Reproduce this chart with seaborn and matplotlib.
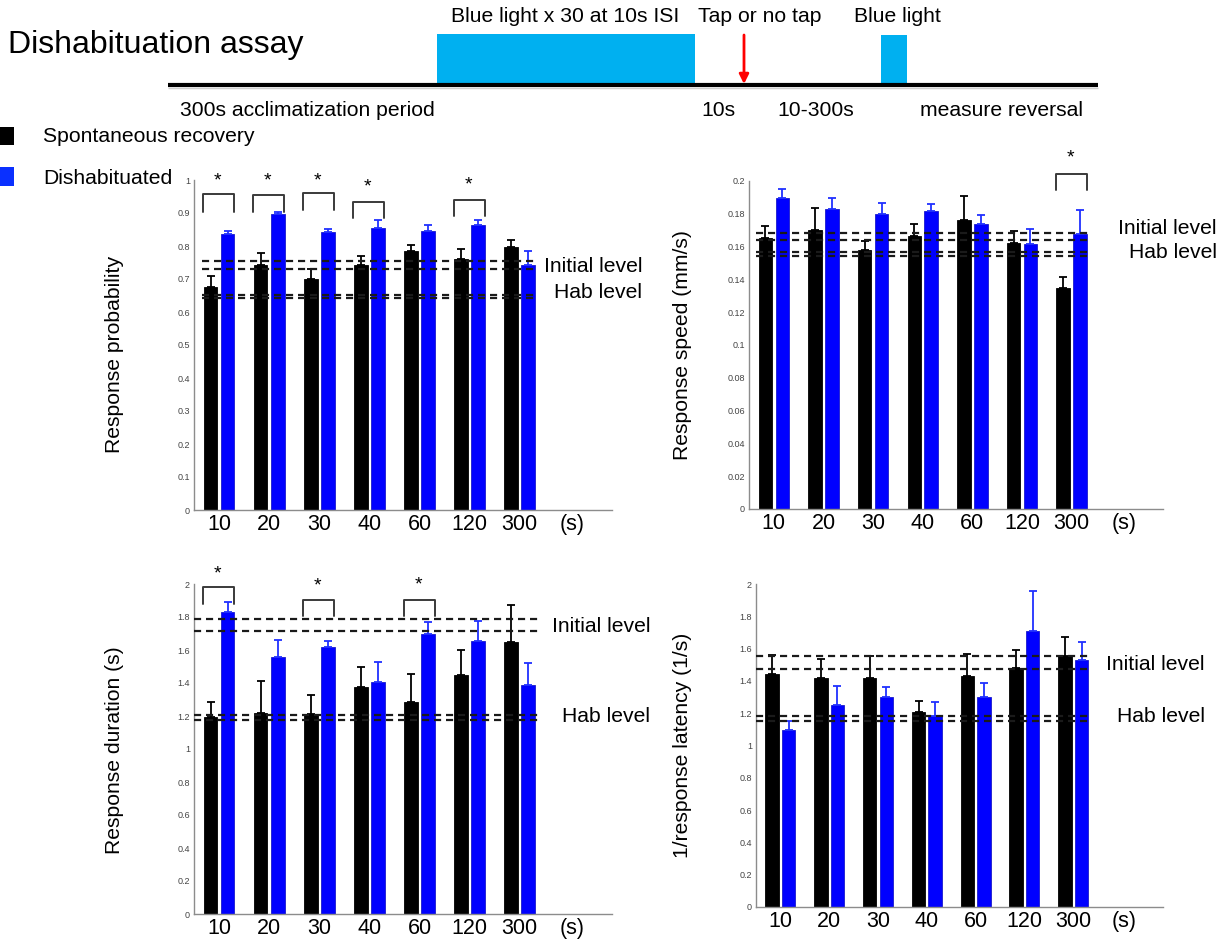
import numpy as np
import pandas as pd
import matplotlib
matplotlib.use("Agg")
import matplotlib.pyplot as plt
from matplotlib.patches import Rectangle
from matplotlib.ticker import FuncFormatter
import seaborn as sns

# ---- data -------------------------------------------------------------
intervals = ['10', '20', '30', '40', '60', '120', '300']
groups = ['Spontaneous recovery', 'Dishabituated']

prob_spont = [0.675, 0.743, 0.701, 0.743, 0.784, 0.762, 0.798]
prob_spont_err = [0.035, 0.035, 0.028, 0.027, 0.020, 0.028, 0.020]
prob_dis = [0.836, 0.897, 0.842, 0.854, 0.846, 0.863, 0.741]
prob_dis_err = [0.008, 0.006, 0.011, 0.024, 0.017, 0.015, 0.044]
prob_initial = [0.756, 0.730]
prob_hab = [0.653, 0.642]

speed_spont = [0.1650, 0.1700, 0.1578, 0.1665, 0.1762, 0.1622, 0.1348]
speed_spont_err = [0.0074, 0.0136, 0.0059, 0.0071, 0.0147, 0.0073, 0.0065]
speed_dis = [0.1896, 0.1830, 0.1800, 0.1815, 0.1736, 0.1614, 0.1677]
speed_dis_err = [0.0055, 0.0066, 0.0066, 0.0043, 0.0059, 0.0092, 0.0148]
speed_initial = [0.1683, 0.1639]
speed_hab = [0.1570, 0.1543]

dur_spont = [1.191, 1.221, 1.211, 1.374, 1.283, 1.451, 1.651]
dur_spont_err = [0.095, 0.194, 0.119, 0.123, 0.170, 0.149, 0.222]
dur_dis = [1.828, 1.560, 1.619, 1.409, 1.699, 1.655, 1.389]
dur_dis_err = [0.063, 0.103, 0.036, 0.117, 0.069, 0.123, 0.133]
dur_initial = [1.790, 1.717]
dur_hab = [1.205, 1.173]

lat_spont = [1.442, 1.417, 1.419, 1.207, 1.428, 1.481, 1.554]
lat_spont_err = [0.118, 0.116, 0.133, 0.068, 0.138, 0.108, 0.117]
lat_dis = [1.095, 1.248, 1.302, 1.182, 1.298, 1.707, 1.531]
lat_dis_err = [0.056, 0.120, 0.062, 0.085, 0.090, 0.252, 0.109]
lat_initial = [1.552, 1.471]
lat_hab = [1.184, 1.153]

# significant intervals (index into intervals)
prob_sig = [0, 1, 2, 3, 5]
speed_sig = [6]
dur_sig = [0, 2, 4]
lat_sig = []

# ---- style ------------------------------------------------------------
sns.set_style("white")
plt.rcParams['font.family'] = ['Liberation Sans', 'DejaVu Sans']
plt.rcParams['text.color'] = 'black'
plt.rcParams['axes.labelcolor'] = 'black'

BLACK = '#000000'
BLUE = '#0000ff'
CYAN = '#00b0f0'
W, H = 1226, 942

fig = plt.figure(figsize=(W / 100, H / 100), dpi=100)


def px_box(left, top, right, bottom):
    return [left / W, 1 - bottom / H, (right - left) / W, (bottom - top) / H]


# full-figure layer in pixel coordinates for the protocol diagram and labels
bg = fig.add_axes([0, 0, 1, 1], zorder=-1)
bg.set_xlim(0, W)
bg.set_ylim(H, 0)
bg.axis('off')

TXT = 15.2
bg.text(8, 45, 'Dishabituation assay', fontsize=23, va='center', ha='left')
bg.plot([168, 1098], [85, 85], color='black', lw=3, solid_capstyle='butt')
bg.plot([168, 1098], [87.5, 87.5], color='#cfcfcf', lw=1, solid_capstyle='butt')
bg.add_patch(Rectangle((437, 34), 258, 50, color=CYAN, lw=0))
bg.add_patch(Rectangle((881, 35), 26, 49, color=CYAN, lw=0))
bg.annotate('', xy=(744, 84), xytext=(744, 35),
            arrowprops=dict(arrowstyle='-|>', color='#ff0000', lw=2,
                            mutation_scale=14, shrinkA=0, shrinkB=0))
bg.text(565, 16, 'Blue light x 30 at 10s ISI', fontsize=TXT, ha='center', va='center')
bg.text(760, 16, 'Tap or no tap', fontsize=TXT, ha='center', va='center')
bg.text(897, 16, 'Blue light', fontsize=TXT, ha='center', va='center')
bg.text(180, 111, '300s acclimatization period', fontsize=TXT, ha='left', va='center')
bg.text(718, 111, '10s', fontsize=TXT, ha='center', va='center')
bg.text(816, 111, '10-300s', fontsize=TXT, ha='center', va='center')
bg.text(920, 111, 'measure reversal', fontsize=TXT, ha='left', va='center')

# legend swatches
bg.add_patch(Rectangle((0, 127), 14, 18, color=BLACK, lw=0))
bg.add_patch(Rectangle((0, 167), 14, 19, color='#0a30ff', lw=0))
bg.text(43, 137, groups[0], fontsize=TXT, ha='left', va='center')
bg.text(43, 178, groups[1], fontsize=TXT, ha='left', va='center')


def panel(box, spont, spont_err, dis, dis_err, initial, hab, sig, brackets,
          ylim, yticks, ylabel, ylabel_xy, level_x, level_y, line_x0):
    ax = fig.add_axes(px_box(*box))
    ax.set_facecolor('none')
    df = pd.DataFrame({
        'interval': intervals * 2,
        'group': [groups[0]] * len(intervals) + [groups[1]] * len(intervals),
        'value': list(spont) + list(dis),
    })
    sns.barplot(data=df, x='interval', y='value', hue='group', order=intervals,
                hue_order=groups, palette=[BLACK, BLUE], errorbar=None,
                width=0.68, gap=0.2, legend=False, saturation=1,
                linewidth=0.6, edgecolor=None, ax=ax)
    for bars, err, col in zip(ax.containers, [spont_err, dis_err], [BLACK, '#2030ff']):
        xs = [b.get_x() + b.get_width() / 2 for b in bars]
        ys = [b.get_height() for b in bars]
        for b in bars:
            b.set_edgecolor(col if col == BLACK else '#1a1acc')
        ax.errorbar(xs, ys, yerr=[np.zeros(len(err)), err], fmt='none',
                    ecolor=col, elinewidth=1.3, capsize=3, capthick=1.3, zorder=3)
    for lvl in list(initial) + list(hab):
        ax.plot([line_x0, 6.36], [lvl, lvl], color='#1a1a1a', lw=1.6,
                dashes=(3.2, 2.2), zorder=4)
    for gi, (top, leg, star) in zip(sig, brackets):
        ax.plot([gi - 0.32, gi - 0.32, gi + 0.30, gi + 0.30], [leg, top, top, leg],
                color='#3a3a3a', lw=1.4, clip_on=False, zorder=5)
        ax.text(gi - 0.03, star, '*', fontsize=14, ha='center', va='center',
                clip_on=False)
    ax.set_xlim(-0.5, 7.84)
    ax.set_ylim(*ylim)
    ax.set_yticks(yticks)
    ax.yaxis.set_major_formatter(FuncFormatter(lambda v, p: f'{round(v, 4):g}'))
    ax.set_xticks(list(range(len(intervals))) + [7.05])
    ax.set_xticklabels(intervals + ['(s)'], fontsize=15.5)
    ax.tick_params(axis='x', length=0, pad=3, colors='black')
    ax.tick_params(axis='y', direction='in', length=3, width=0.8, color='#808080',
                   labelsize=6.5, labelcolor='#444444', pad=3)
    for s in ['top', 'right']:
        ax.spines[s].set_visible(False)
    for s in ['left', 'bottom']:
        ax.spines[s].set_color('#8c8c8c')
        ax.spines[s].set_linewidth(1)
    ax.set_xlabel('')
    ax.set_ylabel('')
    bg.text(ylabel_xy[0], ylabel_xy[1], ylabel, fontsize=TXT, rotation=90,
            ha='center', va='center')
    bg.text(level_x, level_y[0], 'Initial level', fontsize=TXT, ha='right', va='center')
    bg.text(level_x, level_y[1], 'Hab level', fontsize=TXT, ha='right', va='center')
    return ax


panel((194, 180, 612, 510), prob_spont, prob_spont_err, prob_dis, prob_dis_err,
      prob_initial, prob_hab, prob_sig,
      [(0.957, 0.904, 0.998), (0.955, 0.904, 0.998), (0.960, 0.909, 0.998),
       (0.933, 0.884, 0.978), (0.939, 0.891, 0.984)],
      (0, 1), np.round(np.arange(0, 1.01, 0.1), 2), 'Response probability',
      (114, 354), 642, (267, 293), -0.35)

panel((749, 181, 1163, 509), speed_spont, speed_spont_err, speed_dis, speed_dis_err,
      speed_initial, speed_hab, speed_sig, [(0.2043, 0.1947, 0.2138)],
      (0, 0.2), np.round(np.arange(0, 0.201, 0.02), 2), 'Response speed (mm/s)',
      (683, 345), 1217, (228, 253), -0.35)

panel((194, 584, 612, 914), dur_spont, dur_spont_err, dur_dis, dur_dis_err,
      dur_initial, dur_hab, dur_sig,
      [(1.98, 1.881, 2.06), (1.903, 1.806, 1.988), (1.903, 1.806, 1.995)],
      (0, 2), np.round(np.arange(0, 2.01, 0.2), 1), 'Response duration (s)',
      (114, 750), 650, (626, 717), -0.5)

panel((756, 584, 1163, 907), lat_spont, lat_spont_err, lat_dis, lat_dis_err,
      lat_initial, lat_hab, lat_sig, [],
      (0, 2), np.round(np.arange(0, 2.01, 0.2), 1), '1/response latency (1/s)',
      (683, 745), 1205, (665, 717), -0.5)

fig.savefig('out.png', dpi=100)
